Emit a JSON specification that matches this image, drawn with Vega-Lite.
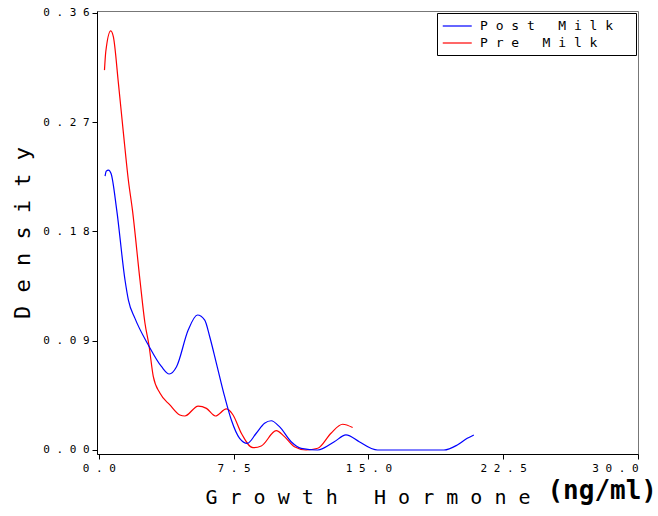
{
  "$schema": "https://vega.github.io/schema/vega-lite/v6.json",
  "width": 541,
  "height": 443,
  "autosize": {"type": "none"},
  "padding": {"left": 97, "top": 11, "right": 20, "bottom": 62},
  "background": "white",
  "title": {
    "text": "(ng/ml)",
    "orient": "bottom",
    "anchor": "end",
    "frame": "group",
    "font": "DejaVu Sans Mono",
    "fontWeight": "bold",
    "fontSize": 26,
    "color": "black",
    "offset": -29,
    "dx": 19
  },
  "data": {
    "values": [
      {"series": "Pre Milk", "x": 0.316, "y": 0.3129},
      {"series": "Pre Milk", "x": 0.388, "y": 0.328},
      {"series": "Pre Milk", "x": 0.665, "y": 0.3453},
      {"series": "Pre Milk", "x": 0.815, "y": 0.340},
      {"series": "Pre Milk", "x": 1.092, "y": 0.302},
      {"series": "Pre Milk", "x": 1.370, "y": 0.261},
      {"series": "Pre Milk", "x": 1.647, "y": 0.222},
      {"series": "Pre Milk", "x": 1.869, "y": 0.198},
      {"series": "Pre Milk", "x": 2.290, "y": 0.140},
      {"series": "Pre Milk", "x": 2.567, "y": 0.1046},
      {"series": "Pre Milk", "x": 2.789, "y": 0.0865},
      {"series": "Pre Milk", "x": 3.033, "y": 0.0604},
      {"series": "Pre Milk", "x": 3.399, "y": 0.0469},
      {"series": "Pre Milk", "x": 3.954, "y": 0.0371},
      {"series": "Pre Milk", "x": 4.508, "y": 0.0288},
      {"series": "Pre Milk", "x": 4.785, "y": 0.0280},
      {"series": "Pre Milk", "x": 5.528, "y": 0.0362},
      {"series": "Pre Milk", "x": 5.989, "y": 0.0343},
      {"series": "Pre Milk", "x": 6.488, "y": 0.0280},
      {"series": "Pre Milk", "x": 7.098, "y": 0.0338},
      {"series": "Pre Milk", "x": 7.469, "y": 0.0288},
      {"series": "Pre Milk", "x": 7.930, "y": 0.0138},
      {"series": "Pre Milk", "x": 8.578, "y": 0.0019},
      {"series": "Pre Milk", "x": 9.039, "y": 0.0033},
      {"series": "Pre Milk", "x": 9.870, "y": 0.0159},
      {"series": "Pre Milk", "x": 10.331, "y": 0.0110},
      {"series": "Pre Milk", "x": 10.885, "y": 0.0027},
      {"series": "Pre Milk", "x": 11.534, "y": 0.0},
      {"series": "Pre Milk", "x": 12.183, "y": 0.0014},
      {"series": "Pre Milk", "x": 12.920, "y": 0.0138},
      {"series": "Pre Milk", "x": 13.569, "y": 0.0212},
      {"series": "Pre Milk", "x": 14.123, "y": 0.0185},
      {"series": "Post Milk", "x": 0.349, "y": 0.2256},
      {"series": "Post Milk", "x": 0.416, "y": 0.2297},
      {"series": "Post Milk", "x": 0.538, "y": 0.2306},
      {"series": "Post Milk", "x": 0.682, "y": 0.2278},
      {"series": "Post Milk", "x": 0.998, "y": 0.1976},
      {"series": "Post Milk", "x": 1.458, "y": 0.1400},
      {"series": "Post Milk", "x": 1.647, "y": 0.1235},
      {"series": "Post Milk", "x": 2.013, "y": 0.1084},
      {"series": "Post Milk", "x": 2.756, "y": 0.0865},
      {"series": "Post Milk", "x": 3.493, "y": 0.0686},
      {"series": "Post Milk", "x": 3.920, "y": 0.0626},
      {"series": "Post Milk", "x": 4.325, "y": 0.0686},
      {"series": "Post Milk", "x": 4.974, "y": 0.0988},
      {"series": "Post Milk", "x": 5.490, "y": 0.1112},
      {"series": "Post Milk", "x": 5.894, "y": 0.1070},
      {"series": "Post Milk", "x": 6.172, "y": 0.0933},
      {"series": "Post Milk", "x": 6.543, "y": 0.0714},
      {"series": "Post Milk", "x": 7.003, "y": 0.0439},
      {"series": "Post Milk", "x": 7.375, "y": 0.0247},
      {"series": "Post Milk", "x": 7.835, "y": 0.0096},
      {"series": "Post Milk", "x": 8.262, "y": 0.0055},
      {"series": "Post Milk", "x": 8.761, "y": 0.0138},
      {"series": "Post Milk", "x": 9.221, "y": 0.0220},
      {"series": "Post Milk", "x": 9.593, "y": 0.0241},
      {"series": "Post Milk", "x": 10.053, "y": 0.0192},
      {"series": "Post Milk", "x": 10.702, "y": 0.0068},
      {"series": "Post Milk", "x": 11.256, "y": 0.0014},
      {"series": "Post Milk", "x": 12.183, "y": 0.0},
      {"series": "Post Milk", "x": 13.103, "y": 0.0068},
      {"series": "Post Milk", "x": 13.752, "y": 0.0124},
      {"series": "Post Milk", "x": 14.490, "y": 0.0068},
      {"series": "Post Milk", "x": 15.138, "y": 0.0014},
      {"series": "Post Milk", "x": 15.510, "y": 0.0},
      {"series": "Post Milk", "x": 19.203, "y": 0.0},
      {"series": "Post Milk", "x": 19.946, "y": 0.0041},
      {"series": "Post Milk", "x": 20.500, "y": 0.0096},
      {"series": "Post Milk", "x": 20.866, "y": 0.0124}
    ]
  },
  "mark": {"type": "line", "interpolate": "monotone", "strokeWidth": 1.2},
  "encoding": {
    "x": {
      "field": "x",
      "type": "quantitative",
      "scale": {"domain": [-0.1, 30], "nice": false, "zero": false},
      "axis": {
        "values": [0, 7.5, 15, 22.5, 30],
        "labelExpr": "join(split(format(datum.value, '.1f'), ''), '\u00a0')",
        "labelFlush": true,
        "title": "G\u00a0r\u00a0o\u00a0w\u00a0t\u00a0h\u00a0\u00a0\u00a0H\u00a0o\u00a0r\u00a0m\u00a0o\u00a0n\u00a0e",
        "titleFont": "DejaVu Sans Mono",
        "titleFontWeight": "normal",
        "titleFontSize": 20,
        "titlePadding": 14
      }
    },
    "y": {
      "field": "y",
      "type": "quantitative",
      "scale": {"domain": [-0.0033, 0.3616], "nice": false, "zero": false},
      "axis": {
        "values": [0, 0.09, 0.18, 0.27, 0.36],
        "labelExpr": "join(split(format(datum.value, '.2f'), ''), '\u00a0')",
        "title": "D\u00a0e\u00a0n\u00a0s\u00a0i\u00a0t\u00a0y",
        "titleFont": "DejaVu Sans Mono",
        "titleFontWeight": "normal",
        "titleFontSize": 22,
        "titlePadding": 8
      }
    },
    "color": {
      "field": "series",
      "type": "nominal",
      "scale": {"domain": ["Post Milk", "Pre Milk"], "range": ["#0000ff", "#ff0000"]},
      "legend": {
        "title": null,
        "orient": "top-right",
        "offset": 2,
        "symbolType": "M-1,0H3",
        "symbolSize": 210,
        "symbolStrokeWidth": 1.2,
        "labelExpr": "join(split(datum.label, ''), '\u00a0') + '\u00a0\u2800'",
        "labelFont": "DejaVu Sans Mono",
        "labelFontSize": 13,
        "labelColor": "black",
        "labelOffset": 22,
        "rowPadding": 2,
        "padding": 5,
        "fillColor": "white",
        "strokeColor": "black",
        "cornerRadius": 0
      }
    }
  },
  "config": {
    "view": {"stroke": "#777777", "strokeWidth": 1},
    "axis": {
      "grid": false,
      "domainColor": "black",
      "tickColor": "black",
      "tickSize": 5,
      "labelColor": "black",
      "labelFont": "DejaVu Sans Mono",
      "labelFontSize": 11,
      "labelPadding": 3,
      "titleColor": "black"
    }
  }
}
